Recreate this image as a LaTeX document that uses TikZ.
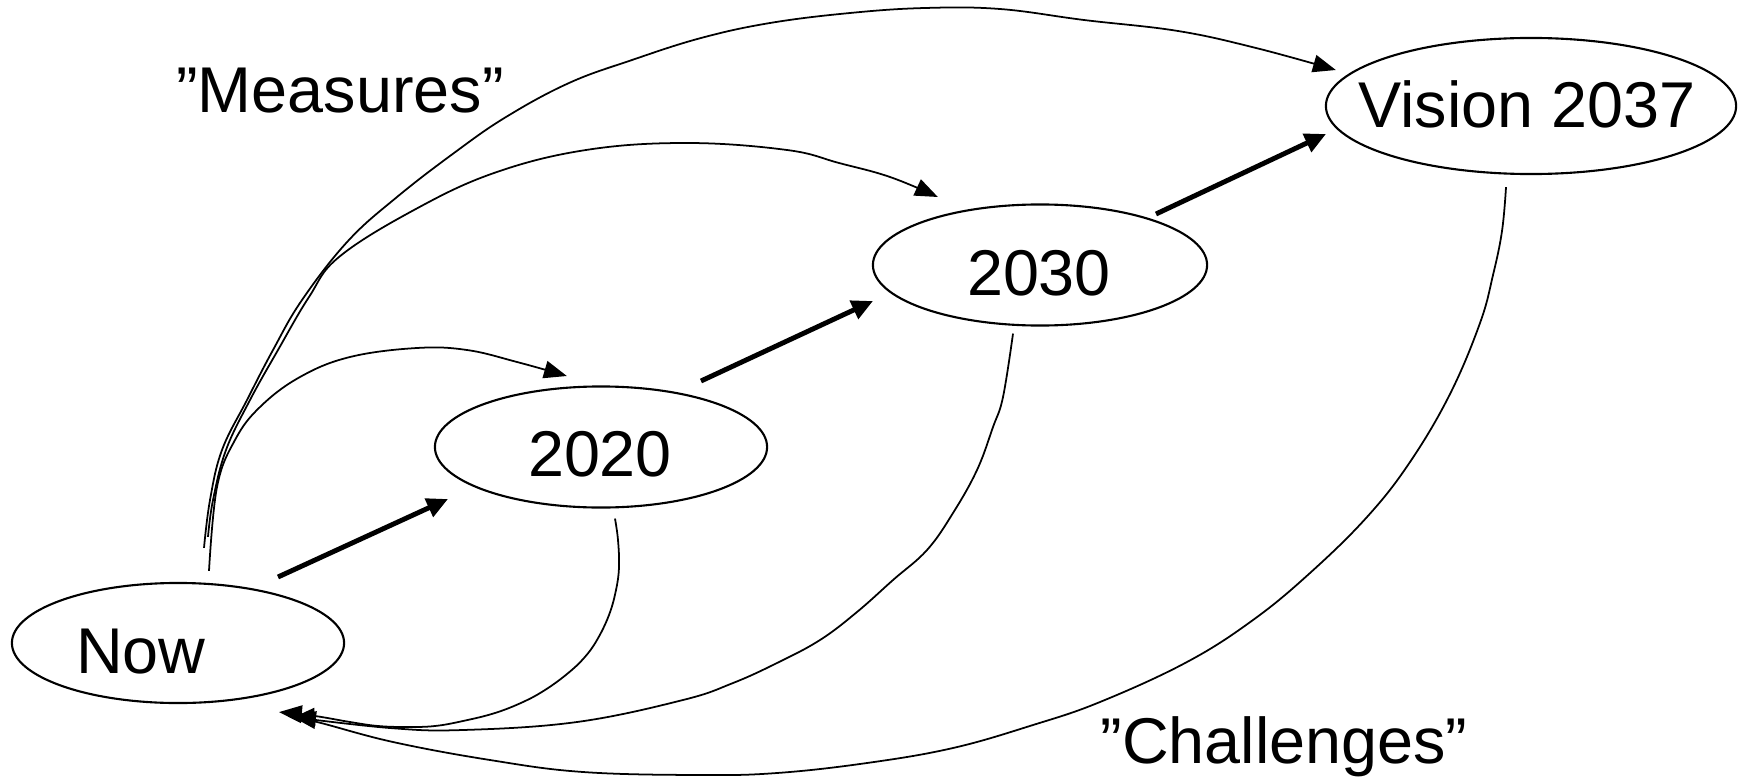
\documentclass[tikz,border=0pt]{standalone}
\usepackage{fontspec}
\setmainfont{Liberation Sans}
\usetikzlibrary{arrows.meta,calc,shapes.geometric}
\begin{document}
\begin{tikzpicture}[x=0.01cm,y=-0.01cm,
  bubble/.style={draw, ellipse, line width=0.6pt, inner sep=0pt},
  lbl/.style={font=\fontsize{18.4}{22}\selectfont, inner sep=0pt, anchor=base},
  flow/.style={line width=1.4pt, -{Triangle[length=6pt,width=5.5pt]}},
  link/.style={line width=0.5pt, -{Triangle[length=6.5pt,width=5pt]}},
  curvy/.style={smooth, tension=0.65}]
\useasboundingbox (0,0) rectangle (1743,779);

% ellipses
\node[bubble, minimum width=3.32cm, minimum height=1.20cm] (now) at (178,643) {};
\node[bubble, minimum width=3.32cm, minimum height=1.21cm] (y2020) at (601,447) {};
\node[bubble, minimum width=3.34cm, minimum height=1.21cm] (y2030) at (1040,265) {};
\node[bubble, minimum width=4.10cm, minimum height=1.36cm] (vis) at (1531,106) {};

% texts
\node[lbl] (nowtext) at (141,673) {Now};
\node[lbl] (t2020) at (600,476) {2020};
\node[lbl] (t2030) at (1039,295) {2030};
\node[lbl] (tvis) at (1527,128) {Vision 2037};
\node[lbl] (measures) at (340,113) {”Measures”};
\node[lbl] (challenges) at (1284,763) {”Challenges”};

% thick arrows
\draw[flow] ($(now.center)+(100,-66)$) -- ($(y2020.center)+(-153,52)$);
\draw[flow] ($(y2020.center)+(100,-66)$) -- ($(y2030.center)+(-167,36)$);
\draw[flow] ($(y2030.center)+(116,-51)$) -- ($(vis.center)+(-205,28)$);

% connector end points
\coordinate (aS) at ($(now.north)+(31,-11)$);
\coordinate (aE) at ($(y2020.west)+(133,-71)$);
\coordinate (bS) at ($(now.north)+(30,-45)$);
\coordinate (bE) at ($(y2030.west)+(66,-68)$);
\coordinate (cS) at ($(now.north)+(26,-34)$);
\coordinate (cE) at ($(vis.west)+(11,-36)$);
\coordinate (dS) at ($(y2020.south)+(14,10)$);
\coordinate (dE) at ($(now.south)+(101,8)$);
\coordinate (eS) at ($(y2030.south)+(-27,7)$);
\coordinate (eE) at ($(now.south)+(115,13)$);
\coordinate (fS) at ($(vis.south)+(-25,12)$);
\coordinate (fE) at ($(now.south)+(114,14)$);

% "Measures" curves
\draw[link] plot[curvy] coordinates {(aS) (217,487) (235,440) (260,407) (300,377) (350,357) (417,348) (467,350) (517,362) (aE)};
\draw[link] plot[curvy] coordinates {(bS) (213,500) (226,450) (250,400) (278,350) (309,297) (339,257) (414,210) (494,173) (586,150) (687,143) (787,150) (839,163) (890,177) (bE)};
\draw[link] plot[curvy] coordinates {(cS) (210,500) (222,450) (247,400) (273,350) (302,300) (348,241) (397,197) (454,153) (506,117) (569,83) (632,60) (701,38) (770,23) (850,13) (925,8) (1000,9) (1084,20) (1178,31) (1256,48) (cE)};

% "Challenges" curves
\draw[link] plot[curvy] coordinates {(dS) (618,540) (619,567) (616,590) (609,615) (597,640) (584,658) (567,674) (545,690) (523,702) (495,713) (463,721) (435,726) (407,727) (378,726) (350,722) (315,716) (dE)};
\draw[link] plot[curvy] coordinates {(eS) (1003,397) (993,427) (977,470) (953,513) (927,550) (893,580) (857,612) (820,640) (777,663) (733,683) (683,700) (577,722) (463,730) (390,728) (eE)};
\draw[link] plot[curvy] coordinates {(fS) (1502,231) (1493,275) (1480,323) (1450,394) (1410,462) (1367,517) (1310,573) (1253,620) (1187,662) (1100,702) (1033,725) (953,748) (867,763) (777,773) (700,775) (583,772) (490,760) (393,742) (317,722) (fE)};
\end{tikzpicture}
\end{document}
